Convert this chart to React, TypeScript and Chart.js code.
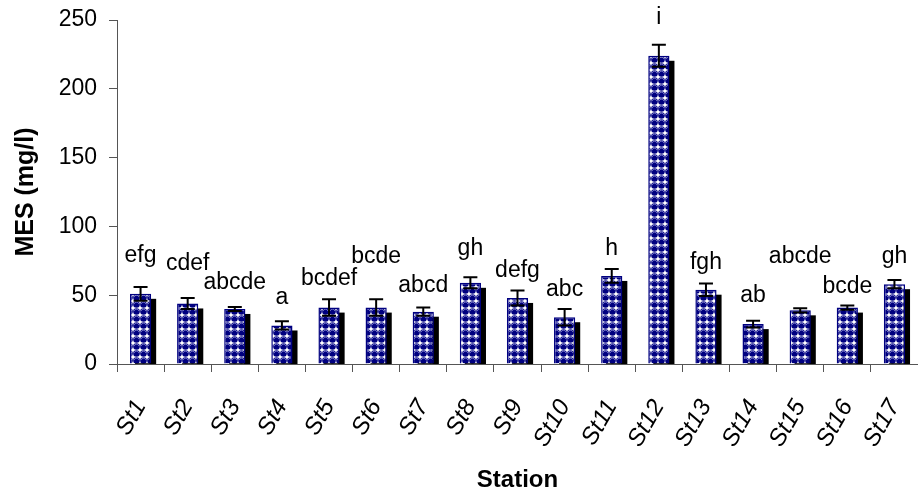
import React, { useEffect, useRef } from 'react';
import { Chart, registerables } from 'chart.js';
Chart.register(...registerables);

const stations = ['St1', 'St2', 'St3', 'St4', 'St5', 'St6', 'St7', 'St8', 'St9', 'St10', 'St11', 'St12', 'St13', 'St14', 'St15', 'St16', 'St17'];
const mesValues = [51, 44, 40, 28, 41, 41, 38, 59, 48, 34, 64, 224, 54, 29, 39, 41, 58];
const mesErrors = [5, 4, 1.5, 3, 6, 6, 3, 4, 5.5, 6, 5, 8, 4.5, 2.5, 1.5, 1.5, 3];
const groupLetters = ['efg', 'cdef', 'abcde', 'a', 'bcdef', 'bcde', 'abcd', 'gh', 'defg', 'abc', 'h', 'i', 'fgh', 'ab', 'abcde', 'bcde', 'gh'];
const letterLevels = [79, 73, 59, 48, 62, 78, 57, 84, 68, 54, 84, 252, 74, 50, 78, 56, 78];
const yTicks = [0, 50, 100, 150, 200, 250];

const FONT = '"Liberation Sans", Arial, sans-serif';

function makePattern(): CanvasPattern | string {
  const c = document.createElement('canvas');
  c.width = 7;
  c.height = 7;
  const g = c.getContext('2d');
  if (!g) return '#000080';
  g.fillStyle = '#ffffff';
  g.fillRect(0, 0, 7, 7);
  g.fillStyle = '#000080';
  g.beginPath();
  g.arc(3.5, 3.5, 3.3, 0, Math.PI * 2);
  g.fill();
  g.strokeStyle = '#8a8ad0';
  g.lineWidth = 0.8;
  g.beginPath();
  g.arc(3.5, 3.5, 2.4, Math.PI * 1.05, Math.PI * 1.95);
  g.stroke();
  return g.createPattern(c, 'repeat') || '#000080';
}

const shadowPlugin = {
  id: 'barShadow',
  beforeDatasetsDraw(chart: any) {
    const ctx = chart.ctx;
    const meta = chart.getDatasetMeta(0);
    const base = chart.scales.y.getPixelForValue(0);
    ctx.save();
    ctx.fillStyle = '#000000';
    meta.data.forEach((el: any) => {
      const w = el.width;
      const left = el.x - w / 2 + 5;
      const top = el.y + 5;
      ctx.fillRect(left, top, w, base - top);
    });
    ctx.restore();
  },
};

const annotPlugin = {
  id: 'errLetters',
  afterDatasetsDraw(chart: any) {
    const ctx = chart.ctx;
    const meta = chart.getDatasetMeta(0);
    const ys = chart.scales.y;
    ctx.save();
    ctx.strokeStyle = '#000000';
    ctx.lineWidth = 2;
    meta.data.forEach((el: any, i: number) => {
      const x = el.x;
      const t = ys.getPixelForValue(mesValues[i] + mesErrors[i]);
      const b = ys.getPixelForValue(mesValues[i] - mesErrors[i]);
      ctx.beginPath();
      ctx.moveTo(x, t);
      ctx.lineTo(x, b);
      ctx.moveTo(x - 7, t);
      ctx.lineTo(x + 7, t);
      ctx.moveTo(x - 7, b);
      ctx.lineTo(x + 7, b);
      ctx.stroke();
    });
    ctx.fillStyle = '#000000';
    ctx.font = `23px ${FONT}`;
    ctx.textAlign = 'center';
    ctx.textBaseline = 'middle';
    meta.data.forEach((el: any, i: number) => {
      ctx.fillText(groupLetters[i], el.x, ys.getPixelForValue(letterLevels[i]));
    });
    ctx.restore();
  },
};

export default function App() {
  const ref = useRef<HTMLCanvasElement | null>(null);
  useEffect(() => {
    document.body.style.margin = '0';
    const canvas = ref.current;
    if (!canvas) return;
    const chart = new Chart(canvas, {
      type: 'bar',
      data: {
        labels: stations,
        datasets: [
          {
            data: mesValues,
            backgroundColor: makePattern() as any,
            borderColor: '#000080',
            borderWidth: 1.5,
            barPercentage: 0.45,
            categoryPercentage: 1,
          },
        ],
      },
      options: {
        animation: false,
        responsive: false,
        maintainAspectRatio: false,
        layout: { padding: { top: 20, right: 0, left: 0, bottom: 0 } },
        plugins: { legend: { display: false }, tooltip: { enabled: false } },
        scales: {
          x: {
            grid: { drawOnChartArea: false, tickLength: 8, color: '#555555', offset: true },
            border: { color: '#555555', width: 1 },
            ticks: {
              color: '#000000',
              font: { family: FONT, size: 24, style: 'italic' },
              minRotation: 60,
              maxRotation: 60,
              padding: 23,
              autoSkip: false,
            },
            title: {
              display: true,
              text: 'Station',
              color: '#000000',
              font: { family: FONT, size: 24, weight: 'bold', lineHeight: 1 },
              padding: { top: 0, bottom: 1 },
            },
            afterFit(scale: any) {
              scale.height = 129;
              scale.paddingLeft = 0;
              scale.paddingRight = 0;
            },
          },
          y: {
            min: 0,
            max: 250,
            afterBuildTicks(scale: any) {
              scale.ticks = yTicks.map((v) => ({ value: v }));
            },
            grid: { drawOnChartArea: false, tickLength: 8, color: '#555555' },
            border: { color: '#555555', width: 1 },
            ticks: {
              color: '#000000',
              font: { family: FONT, size: 23 },
              padding: 12,
            },
            title: {
              display: true,
              text: 'MES (mg/l)',
              color: '#000000',
              font: { family: FONT, size: 25, weight: 'bold', lineHeight: 1 },
              padding: { top: 14, bottom: 0 },
            },
            afterFit(scale: any) {
              scale.width = 117;
              scale.paddingTop = 0;
              scale.paddingBottom = 0;
            },
          },
        },
      },
      plugins: [shadowPlugin, annotPlugin],
    });
    return () => chart.destroy();
  }, []);
  return (
    <div style={{ width: 918, height: 493 }}>
      <canvas ref={ref} width={918} height={493} style={{ display: 'block' }} />
    </div>
  );
}
